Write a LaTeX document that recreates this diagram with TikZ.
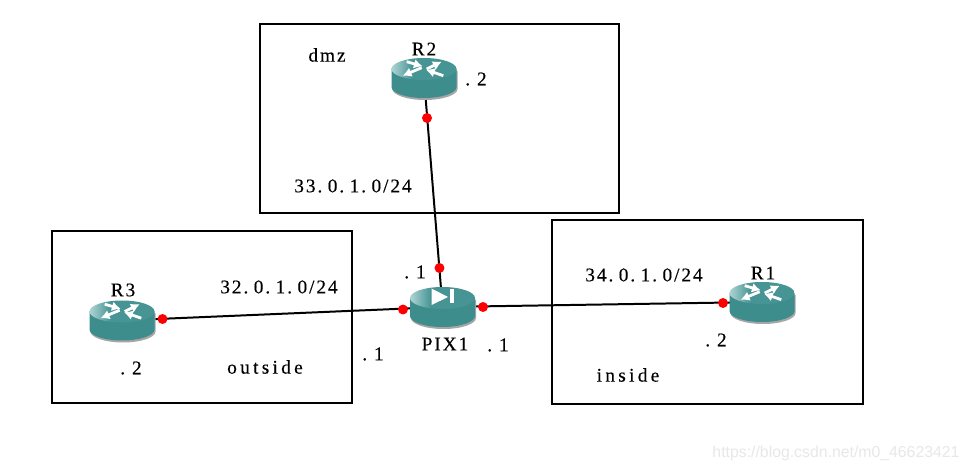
\documentclass[tikz,border=0pt]{standalone}
\usepackage{fontspec}
\setmainfont[LetterSpace=10,FakeBold=0.25]{Liberation Serif}
\newfontfamily\wordfont[LetterSpace=17,FakeBold=0.25]{Liberation Serif}
\newfontfamily\urlfont{Liberation Sans}
\usepackage{xcolor}
\usetikzlibrary{arrows.meta}
\definecolor{rteal}{RGB}{62,141,141}
\definecolor{rtop}{RGB}{70,148,148}
\definecolor{rlight}{RGB}{175,212,212}
\pgfdeclarehorizontalshading{routertop}{100bp}{color(0bp)=(rlight); color(25bp)=(rlight); color(41bp)=(rtop); color(100bp)=(rtop)}
\newcommand{\dt}{.\kern 3.1pt}
\newcommand{\hostip}[1]{.\kern 3.9pt #1}
\tikzset{
  zone/.style={draw=black, line width=1.7pt*0.567},
  link/.style={draw=black, line width=2pt*0.567},
  port/.style={circle, fill=red, inner sep=0pt, minimum size=10*0.567pt},
  lbl/.style={inner sep=0pt, font=\fontsize{11pt}{13pt}\selectfont},
  wordlbl/.style={inner sep=0pt, font=\wordfont\fontsize{11pt}{13pt}\selectfont},
  xarr/.style={white, line width=1.6pt, -{Latex[length=5pt,width=5.5pt]}},
  drum/.pic={
    \fill[black!35] (-31.5,-7) -- (-31.5,11) arc[start angle=180,end angle=0,x radius=32.5,y radius=11] -- (33.5,-7) -- cycle;
    \fill[rteal] (-32.5,-9) -- (-32.5,9) arc[start angle=180,end angle=0,x radius=32.5,y radius=11] -- (32.5,-9) -- cycle;
    \shade[shading=routertop] (0,-9) ellipse[x radius=32.5,y radius=11];
  },
  router/.pic={
    \pic {drum};
    \draw[xarr] (-17.3,-16.3) -- (-1.3,-11.7);
    \draw[xarr] (19.3,-2.3) -- (2,-8.3);
    \draw[xarr] (2.7,-9) -- (17.7,-16.3);
    \draw[xarr] (-2.3,-10.3) -- (-21.3,-2.3);
  },
  firewall/.pic={
    \pic {drum};
    \fill[white] (-11,-18.5) -- (-11,-2) -- (5.5,-10) -- cycle;
    \fill[white] (7,-17.5) rectangle (11.5,-3.5);
  },
}
\begin{document}
\begin{tikzpicture}[x=0.02cm,y=-0.02cm]
  \useasboundingbox[fill=white] (0,0) rectangle (967,472);
  \draw[zone] (260,24) rectangle (619,213);
  \draw[zone] (52,231) rectangle (352,403);
  \draw[zone] (552,220) rectangle (863,404);
  \coordinate (r2) at (424,78);
  \coordinate (r3) at (122,320.5);
  \coordinate (r1) at (762,302);
  \coordinate (pix1) at (442.5,307);
  \draw[link] (r2) -- (pix1);
  \draw[link] (r3) -- (pix1);
  \draw[link] (pix1) -- (r1);
  \pic at (r2) {router};
  \pic at (r3) {router};
  \pic at (r1) {router};
  \pic at (pix1) {firewall};
  \node[port] (p2a) at (427,118) {};
  \node[port] (p2b) at (439.5,268) {};
  \node[port] (p3a) at (162.5,319) {};
  \node[port] (p3b) at (403,309.5) {};
  \node[port] (p1a) at (483,307) {};
  \node[port] (p1b) at (723,303) {};
  \node[lbl] (dmz) at (327,55) {dmz};
  \node[lbl] (r2name) at (424,49) {R2};
  \node[lbl] (r2ip) at (476,79) {\hostip{2}};
  \node[lbl] (net33) at (353,186) {33\dt 0\dt 1\dt 0/24};
  \node[lbl] (r3name) at (123,290) {R3};
  \node[lbl] (net32) at (279,287) {32\dt 0\dt 1\dt 0/24};
  \node[lbl] (r3ip) at (131,368) {\hostip{2}};
  \node[wordlbl] (outside) at (265,367) {outside};
  \node[lbl] (pixoutip) at (373,354) {\hostip{1}};
  \node[lbl] (pixdmzip) at (415,272) {\hostip{1}};
  \node[lbl] (pixname) at (445,344) {PIX1};
  \node[lbl] (pixinip) at (498,345) {\hostip{1}};
  \node[lbl] (net34) at (644,275) {34\dt 0\dt 1\dt 0/24};
  \node[lbl] (r1name) at (763,273) {R1};
  \node[lbl] (r1ip) at (716,340) {\hostip{2}};
  \node[wordlbl] (inside) at (628,375) {inside};
  \node[inner sep=0pt, text=black!9, font=\urlfont\fontsize{9pt}{11pt}\selectfont] (wmark) at (836,453) {https://blog.csdn.net/m0\_46623421};
\end{tikzpicture}
\end{document}
